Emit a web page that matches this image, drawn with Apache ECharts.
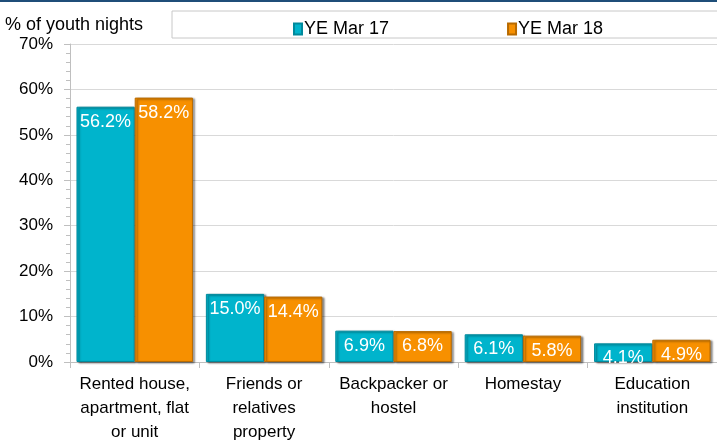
<!DOCTYPE html>
<html>
<head>
<meta charset="utf-8">
<script src="https://cdn.jsdelivr.net/npm/echarts@6/dist/echarts.min.js"></script>
<style>
  html, body { margin: 0; padding: 0; background: #fff; }
  #chart { width: 717px; height: 442px; }
</style>
</head>
<body>
<div id="chart"></div>
<script>
const categories = [
  "Rented house,\napartment, flat\nor unit",
  "Friends or\nrelatives\nproperty",
  "Backpacker or\nhostel",
  "Homestay",
  "Education\ninstitution"
];
const ye17 = [56.2, 15.0, 6.9, 6.1, 4.1];
const ye18 = [58.2, 14.4, 6.8, 5.8, 4.9];
const seriesNames = ["YE Mar 17", "YE Mar 18"];

const font = "Liberation Sans";

const barStyle = (fill, edge) => ({
  color: fill,
  borderColor: edge,
  borderWidth: 1,
  shadowColor: "rgba(0,0,0,0.45)",
  shadowBlur: 2,
  shadowOffsetX: 2,
  shadowOffsetY: 1
});

const label = {
  show: true,
  position: "insideTop",
  distance: 6,
  color: "#fff",
  fontFamily: font,
  fontSize: 18,
  formatter: p => p.value.toFixed(1) + "%"
};

const chart = echarts.init(document.getElementById("chart"));
chart.setOption({
  animation: false,
  textStyle: { fontFamily: font },
  graphic: [
    { type: "rect", shape: { x: 0, y: 0, width: 717, height: 2 }, style: { fill: "#1f4e79" } },
    { type: "rect", shape: { x: 172, y: 11, width: 560, height: 27 },
      style: { fill: "#fff", stroke: "#c8c8c8", lineWidth: 1 } },
    { type: "text", left: 5, top: 16,
      style: { text: "% of youth nights", font: "18px " + font, fill: "#000" } }
  ],
  legend: {
    data: seriesNames,
    left: 288,
    top: 15,
    itemWidth: 8,
    itemHeight: 11,
    itemGap: 118,
    icon: "rect",
    textStyle: { fontFamily: font, fontSize: 18, color: "#000", padding: [0, 0, 0, -3] }
  },
  grid: { left: 70, right: 0, top: 44, bottom: 80, outerBoundsMode: "none" },
  xAxis: {
    type: "category",
    data: categories,
    axisLine: { lineStyle: { color: "#bfbfbf" } },
    axisTick: { show: true, length: 6, lineStyle: { color: "#bfbfbf" } },
    axisLabel: { color: "#000", fontSize: 17, lineHeight: 24, margin: 10, interval: 0 }
  },
  yAxis: {
    type: "value",
    min: 0,
    max: 70,
    interval: 10,
    axisLine: { show: true, lineStyle: { color: "#bfbfbf" } },
    axisTick: { show: true, length: 6, inside: false, lineStyle: { color: "#bfbfbf" } },
    minorTick: { show: true, splitNumber: 5, length: 4, lineStyle: { color: "#bfbfbf" } },
    splitLine: { lineStyle: { color: "#d9d9d9" } },
    axisLabel: { color: "#000", fontSize: 17, margin: 17, formatter: v => v + "%" }
  },
  series: [
    {
      name: seriesNames[0],
      type: "bar",
      data: ye17,
      barGap: "0%",
      barCategoryGap: "10%",
      itemStyle: barStyle("#00b4cc", "#00899c"),
      label: label
    },
    {
      name: seriesNames[1],
      type: "bar",
      data: ye18,
      itemStyle: barStyle("#f79000", "#b86a00"),
      label: label
    }
  ]
});
</script>
</body>
</html>
